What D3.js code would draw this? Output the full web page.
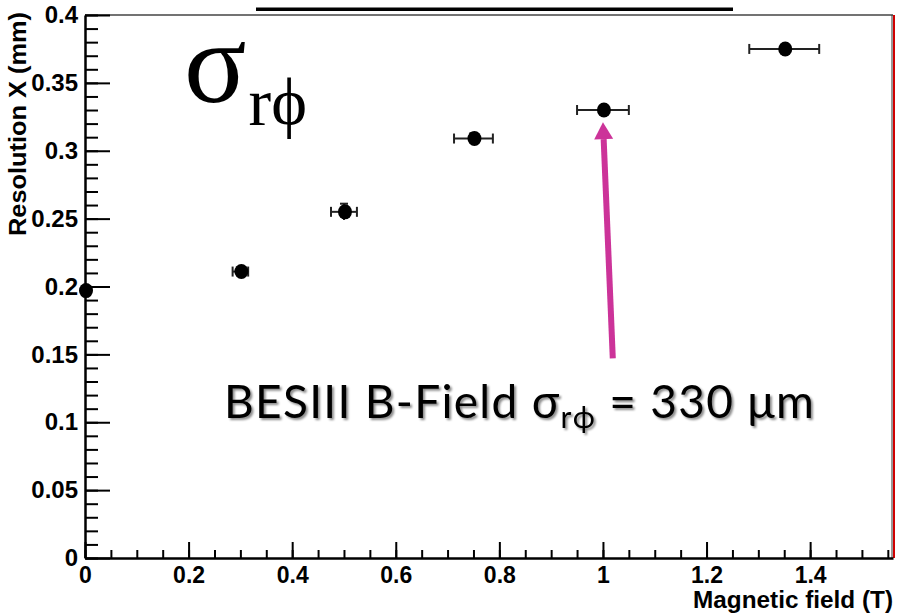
<!DOCTYPE html>
<html><head><meta charset="utf-8">
<script src="https://cdn.jsdelivr.net/npm/d3@7"></script>
<style>
html,body{margin:0;padding:0;background:#fff;}
svg{display:block;}
</style></head>
<body>
<svg id="c" width="897" height="616"></svg>
<script>
// ---- data ----
const fieldT   = [0.0, 0.3, 0.5, 0.75, 1.0, 1.35];
const resMM    = [0.197, 0.211, 0.255, 0.309, 0.330, 0.375];
const fieldErr = [0.0, 0.015, 0.025, 0.0375, 0.05, 0.0675];
const resErr   = [0.003, 0.003, 0.006, 0.004, 0.003, 0.003];
const xTickValues = [0, 0.2, 0.4, 0.6, 0.8, 1.0, 1.2, 1.4];
const xTickLabels = ["0", "0.2", "0.4", "0.6", "0.8", "1", "1.2", "1.4"];
const yTickValues = [0, 0.05, 0.1, 0.15, 0.2, 0.25, 0.3, 0.35, 0.4];
const yTickLabels = ["0", "0.05", "0.1", "0.15", "0.2", "0.25", "0.3", "0.35", "0.4"];
const xTitle = "Magnetic field (T)";
const yTitle = "Resolution X (mm)";
const annotText = ["BESIII B-Field ", "σ", "rϕ", " = 330 μm"];
const arrowFrom = [1.019, 0.147];
const arrowTo   = [1.0, 0.321];

// ---- layout ----
const W = 897, H = 616;
const L = 85, R = 893, T = 15, B = 558;
const svg = d3.select("#c");
svg.append("rect").attr("width", W).attr("height", H).attr("fill", "#fff");

const x = d3.scaleLinear().domain([0, 1.56]).range([L, R]);
const y = d3.scaleLinear().domain([0, 0.4]).range([B, T]);

const defs = svg.append("defs");
const f = defs.append("filter").attr("id", "sh").attr("x", "-5%").attr("y", "-20%").attr("width", "110%").attr("height", "150%");
f.append("feDropShadow").attr("dx", 2).attr("dy", 2).attr("stdDeviation", 1.3)
  .attr("flood-color", "#000").attr("flood-opacity", 0.45);

// title fragment at top
svg.append("rect").attr("x", 256).attr("y", 7.5).attr("width", 477).attr("height", 3.5).attr("fill", "#000");

// frame
svg.append("line").attr("x1", L).attr("x2", R).attr("y1", T).attr("y2", T)
  .attr("stroke", "#444").attr("stroke-width", 1.5);
svg.append("line").attr("x1", R - 1).attr("x2", R - 1).attr("y1", T).attr("y2", B)
  .attr("stroke", "#333").attr("stroke-width", 1);
svg.append("line").attr("x1", R + 1).attr("x2", R + 1).attr("y1", T).attr("y2", B)
  .attr("stroke", "#d00000").attr("stroke-width", 2);

const font = "'Liberation Sans', Arial, Helvetica, sans-serif";

// y axis minor
const yMinor = d3.range(0, 0.4001, 0.01);
svg.append("g").attr("transform", `translate(${L},0)`)
  .call(d3.axisLeft(y).tickValues(yMinor).tickSize(-13).tickSizeOuter(0).tickFormat(""))
  .call(g => g.selectAll("line").attr("stroke", "#000").attr("stroke-width", 2))
  .call(g => g.select(".domain").remove());
// y axis major
const yAx = svg.append("g").attr("transform", `translate(${L},0)`)
  .call(d3.axisLeft(y).tickValues(yTickValues).tickSize(-25).tickSizeOuter(0).tickPadding(7)
    .tickFormat((d, i) => yTickLabels[i]));
yAx.select(".domain").attr("stroke", "#000").attr("stroke-width", 2.5);
yAx.selectAll("line").attr("stroke", "#000").attr("stroke-width", 2);
yAx.selectAll("text").attr("font-family", font).attr("font-weight", "bold").attr("font-size", 24).attr("fill", "#000");

// x axis minor
const xMinor = d3.range(0, 1.5601, 0.05);
svg.append("g").attr("transform", `translate(0,${B})`)
  .call(d3.axisBottom(x).tickValues(xMinor).tickSize(-8).tickSizeOuter(0).tickFormat(""))
  .call(g => g.selectAll("line").attr("stroke", "#000").attr("stroke-width", 2))
  .call(g => g.select(".domain").remove());
const xAx = svg.append("g").attr("transform", `translate(0,${B})`)
  .call(d3.axisBottom(x).tickValues(xTickValues).tickSize(-16).tickSizeOuter(0).tickPadding(9)
    .tickFormat((d, i) => xTickLabels[i]));
xAx.select(".domain").attr("stroke", "#000").attr("stroke-width", 2.5);
xAx.selectAll("line").attr("stroke", "#000").attr("stroke-width", 2);
xAx.selectAll("text").attr("font-family", font).attr("font-weight", "bold").attr("font-size", 23).attr("fill", "#000");

// axis titles
svg.append("text").attr("x", R).attr("y", 608).attr("text-anchor", "end")
  .attr("font-family", font).attr("font-weight", "bold").attr("font-size", 23)
  .attr("textLength", 200).attr("lengthAdjust", "spacingAndGlyphs")
  .text(xTitle);
svg.append("text").attr("transform", "translate(26,12) rotate(-90)").attr("text-anchor", "end")
  .attr("font-family", font).attr("font-weight", "bold").attr("font-size", 23)
  .attr("textLength", 224).attr("lengthAdjust", "spacingAndGlyphs")
  .text(yTitle);

// data
const pts = fieldT.map((v, i) => ({x: v, y: resMM[i], ex: fieldErr[i], ey: resErr[i]}));
const gp = svg.append("g");
gp.selectAll("line.ex").data(pts.filter(d => d.ex > 0)).join("line").attr("class", "ex")
  .attr("x1", d => x(d.x - d.ex)).attr("x2", d => x(d.x + d.ex))
  .attr("y1", d => y(d.y)).attr("y2", d => y(d.y)).attr("stroke", "#222").attr("stroke-width", 2);
gp.selectAll("line.cl").data(pts.filter(d => d.ex > 0)).join("line").attr("class", "cl")
  .attr("x1", d => x(d.x - d.ex)).attr("x2", d => x(d.x - d.ex))
  .attr("y1", d => y(d.y) - 5).attr("y2", d => y(d.y) + 5).attr("stroke", "#222").attr("stroke-width", 2);
gp.selectAll("line.cr").data(pts.filter(d => d.ex > 0)).join("line").attr("class", "cr")
  .attr("x1", d => x(d.x + d.ex)).attr("x2", d => x(d.x + d.ex))
  .attr("y1", d => y(d.y) - 5).attr("y2", d => y(d.y) + 5).attr("stroke", "#222").attr("stroke-width", 2);
gp.selectAll("line.ey").data(pts).join("line").attr("class", "ey")
  .attr("x1", d => x(d.x)).attr("x2", d => x(d.x))
  .attr("y1", d => y(d.y - d.ey)).attr("y2", d => y(d.y + d.ey)).attr("stroke", "#222").attr("stroke-width", 2);
gp.selectAll("line.ct").data(pts).join("line").attr("class", "ct")
  .attr("x1", d => x(d.x) - 4).attr("x2", d => x(d.x) + 4)
  .attr("y1", d => y(d.y + d.ey)).attr("y2", d => y(d.y + d.ey)).attr("stroke", "#222").attr("stroke-width", 2);
gp.selectAll("ellipse").data(pts).join("ellipse")
  .attr("cx", d => x(d.x) + 1).attr("cy", d => y(d.y))
  .attr("rx", 7).attr("ry", 7.5).attr("fill", "#000");

// big sigma label
const sig = svg.append("text").attr("x", 184).attr("y", 102)
  .attr("font-family", "'Liberation Serif', 'Times New Roman', serif").attr("fill", "#000");
sig.append("tspan").attr("font-size", 116).text("σ");
sig.append("tspan").attr("font-size", 68).attr("dy", 23).attr("dx", 2).text("rϕ");

// arrow
const ax1 = x(arrowFrom[0]), ay1 = y(arrowFrom[1]), ax2 = x(arrowTo[0]), ay2 = y(arrowTo[1]);
const ang = Math.atan2(ay2 - ay1, ax2 - ax1);
const headL = 17, headW = 9.5;
const bx = ax2 - headL * Math.cos(ang), by = ay2 - headL * Math.sin(ang);
svg.append("line").attr("x1", ax1).attr("y1", ay1).attr("x2", bx).attr("y2", by)
  .attr("stroke", "#CC3399").attr("stroke-width", 6);
svg.append("path").attr("fill", "#CC3399")
  .attr("d", `M${ax2},${ay2} L${bx - headW * Math.sin(ang)},${by + headW * Math.cos(ang)} L${bx + headW * Math.sin(ang)},${by - headW * Math.cos(ang)} Z`);

// annotation text
const at = svg.append("text").attr("x", 224).attr("y", 418)
  .attr("font-family", "Lato, 'Open Sans', sans-serif").attr("font-size", 46).attr("fill", "#000")
  .attr("letter-spacing", 1.3)
  .attr("filter", "url(#sh)");
at.append("tspan").text(annotText[0]);
at.append("tspan").text(annotText[1]);
at.append("tspan").attr("font-size", 30).attr("dy", 10).text(annotText[2]);
at.append("tspan").attr("dy", -10).text(annotText[3]);
</script>
</body></html>
